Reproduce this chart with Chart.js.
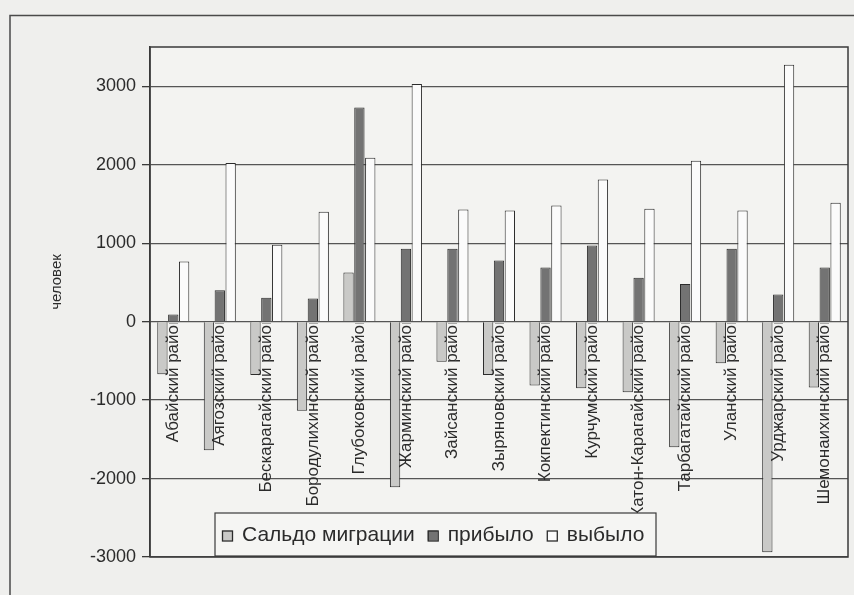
<!DOCTYPE html>
<html>
<head>
<meta charset="utf-8">
<script src="https://cdn.jsdelivr.net/npm/chart.js@4/dist/chart.umd.min.js"></script>
<style>
  html, body { margin: 0; padding: 0; background: #efefed; }
  #wrap { width: 854px; height: 595px; position: relative; }
</style>
</head>
<body>
<div id="wrap"><canvas id="c" width="854" height="595"></canvas></div>
<script>
// Districts of the oblast
const districts = [
  'Абайский район', 'Аягозский район', 'Бескарагайский район', 'Бородулихинский район',
  'Глубоковский район', 'Жарминский район', 'Зайсанский район', 'Зыряновский район',
  'Кокпектинский район', 'Курчумский район', 'Катон-Карагайский район', 'Тарбагатайский район',
  'Уланский район', 'Урджарский район', 'Шемонаихинский район'
];
// Migration, persons
const saldo    = [-670, -1640, -680, -1135, 625, -2110, -510, -680, -815, -850, -900, -1600, -530, -2940, -840];
const arrived  = [90, 400, 305, 295, 2730, 930, 930, 780, 690, 970, 560, 480, 930, 345, 690];
const departed = [765, 2020, 980, 1400, 2090, 3030, 1430, 1415, 1480, 1810, 1440, 2050, 1415, 3275, 1515];
const seriesNames = ['Сальдо миграции', 'прибыло', 'выбыло'];
const yTicks = [-3000, -2000, -1000, 0, 1000, 2000, 3000];
const yTitle = 'человек';

const FONT = '"Liberation Sans", Arial, sans-serif';
const INK = '#2b2b2b';

// Frame lines, plot box, axis title, rotated district names and legend
const decor = {
  id: 'decor',
  beforeDraw(chart) {
    const { ctx, chartArea: a } = chart;
    ctx.save();
    ctx.strokeStyle = '#4a4a4a';
    ctx.lineWidth = 1.5;
    ctx.beginPath();
    ctx.moveTo(10, 595); ctx.lineTo(10, 15.5); ctx.lineTo(854, 15.5);
    ctx.stroke();
    ctx.fillStyle = '#f3f3f1';
    ctx.fillRect(a.left, a.top, a.right - a.left, a.bottom - a.top);
    ctx.restore();
  },
  afterDatasetsDraw(chart) {
    const { ctx, chartArea: a, scales } = chart;
    const y0 = scales.y.getPixelForValue(0);
    ctx.save();
    // plot box
    ctx.strokeStyle = '#3a3a3a';
    ctx.lineWidth = 1.5;
    ctx.strokeRect(a.left, a.top, a.right - a.left, a.bottom - a.top);

    // axis title
    ctx.fillStyle = INK;
    ctx.font = '15px ' + FONT;
    ctx.textAlign = 'center';
    ctx.textBaseline = 'middle';
    ctx.save();
    ctx.translate(57, 282);
    ctx.rotate(-Math.PI / 2);
    ctx.fillText(yTitle, 0, 0);
    ctx.restore();

    // district names below the zero line
    ctx.save();
    ctx.beginPath();
    ctx.rect(a.left, y0 + 2, a.right - a.left, a.bottom - y0 - 2);
    ctx.clip();
    ctx.font = '17px ' + FONT;
    ctx.textAlign = 'right';
    ctx.textBaseline = 'middle';
    chart.data.labels.forEach((lab, i) => {
      const x = scales.x.getPixelForValue(i);
      ctx.save();
      ctx.translate(x, y0 - 6);
      ctx.rotate(-Math.PI / 2);
      ctx.fillText(lab, 0, 0);
      ctx.restore();
    });
    ctx.restore();

    // legend box
    const bx = 215, by = 513, bw = 441, bh = 43;
    ctx.fillStyle = '#f5f5f3';
    ctx.fillRect(bx, by, bw, bh);
    ctx.strokeStyle = '#3a3a3a';
    ctx.lineWidth = 1.2;
    ctx.strokeRect(bx, by, bw, bh);
    ctx.font = '21px ' + FONT;
    ctx.textAlign = 'left';
    ctx.textBaseline = 'middle';
    let x = bx + 7;
    const cy = by + bh / 2 + 1;
    chart.data.datasets.forEach(ds => {
      ctx.fillStyle = ds.backgroundColor;
      ctx.fillRect(x, cy - 5, 10, 10);
      ctx.strokeStyle = INK;
      ctx.lineWidth = 1.3;
      ctx.strokeRect(x + 0.5, cy - 4.5, 10, 10);
      x += 20;
      ctx.fillStyle = INK;
      ctx.fillText(ds.label, x, cy);
      x += ctx.measureText(ds.label).width + 13;
    });
    ctx.restore();
  }
};

new Chart(document.getElementById('c'), {
  type: 'bar',
  data: {
    labels: districts,
    datasets: [
      { label: seriesNames[0], data: saldo,    backgroundColor: '#c9c9c7', borderColor: INK, borderWidth: 1 },
      { label: seriesNames[1], data: arrived,  backgroundColor: '#737373', borderColor: INK, borderWidth: 1 },
      { label: seriesNames[2], data: departed, backgroundColor: '#fbfbfb', borderColor: INK, borderWidth: 1 }
    ]
  },
  options: {
    responsive: false,
    animation: false,
    layout: { padding: { left: 0, top: 47, right: 6, bottom: 38 } },
    datasets: { bar: { categoryPercentage: 0.7, barPercentage: 0.95 } },
    plugins: { legend: { display: false }, tooltip: { enabled: false } },
    scales: {
      x: { display: false },
      y: {
        min: -3000,
        max: 3500,
        afterFit(scale) { scale.width = 150; },
        afterBuildTicks(scale) { scale.ticks = yTicks.map(v => ({ value: v })); },
        border: { display: true, color: '#3a3a3a', width: 1.5 },
        grid: {
          color: '#555555',
          lineWidth: 1.3,
          drawTicks: true,
          tickLength: 8,
          tickColor: '#3a3a3a'
        },
        ticks: {
          padding: 6,
          color: INK,
          font: { family: FONT, size: 18 },
          callback: v => String(v)
        }
      }
    }
  },
  plugins: [decor]
});
</script>
</body>
</html>
